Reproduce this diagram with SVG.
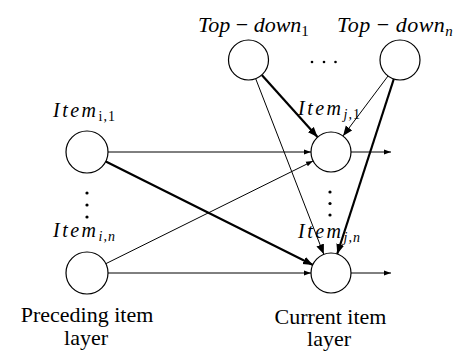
<svg xmlns="http://www.w3.org/2000/svg" width="464" height="352" viewBox="0 0 464 352">
<style>
.node circle{fill:#fff;stroke:#000;stroke-width:1.2}
.thin{stroke:#000;stroke-width:1;fill:none}
.thick{stroke:#000;stroke-width:2.2;fill:none}
text{font-family:"Liberation Serif","Times New Roman",Times,"DejaVu Serif",serif}
.m{font-style:italic;fill:#000}
.up{font-style:normal}
.lbl{font-size:22px;fill:#000;text-anchor:middle}
.dot{fill:#000}
</style>
<defs>
<marker id="a" markerUnits="userSpaceOnUse" markerWidth="8" markerHeight="6" refX="7" refY="3" orient="auto"><path d="M0,0.5 L7,3 L0,5.5 z" fill="#000"/></marker>
<marker id="b" markerUnits="userSpaceOnUse" markerWidth="11" markerHeight="9" refX="10" refY="4.5" orient="auto"><path d="M0,0.5 L10,4.5 L0,8.5 z" fill="#000"/></marker>
</defs>
<g id="connectors">
<line class="thin" x1="108" y1="152" x2="311" y2="152" marker-end="url(#a)"/>
<line class="thick" x1="105.8" y1="161.4" x2="313" y2="265" marker-end="url(#b)"/>
<line class="thin" x1="105.8" y1="263.7" x2="313" y2="161" marker-end="url(#a)"/>
<line class="thin" x1="108" y1="273" x2="311" y2="273" marker-end="url(#a)"/>
<line class="thick" x1="261.8" y1="74.9" x2="317.5" y2="137" marker-end="url(#b)"/>
<line class="thin" x1="255.7" y1="78.7" x2="323.8" y2="254.3" marker-end="url(#b)"/>
<line class="thin" x1="388" y1="76" x2="343" y2="136" marker-end="url(#b)"/>
<line class="thick" x1="393.8" y1="79" x2="337.2" y2="254" marker-end="url(#b)"/>
<line class="thin" x1="351" y1="152" x2="391" y2="152" marker-end="url(#a)"/>
<line class="thin" x1="351" y1="273" x2="391" y2="273" marker-end="url(#a)"/>
</g>
<g id="item_i1" class="node">
<circle cx="87" cy="152" r="21"/>
<text class="m" x="53" y="117" font-size="20" letter-spacing="2.5">Item<tspan class="up" font-size="14" dy="4" letter-spacing="1">i,1</tspan></text>
</g>
<g id="item_in" class="node">
<circle cx="87" cy="273" r="21"/>
<text class="m" x="53" y="237" font-size="20" letter-spacing="2.5">Item<tspan font-size="14" dy="4" letter-spacing="1">i,n</tspan></text>
</g>
<g id="item_j1" class="node">
<circle cx="331" cy="152" r="20"/>
<text class="m" x="298" y="115" font-size="20" letter-spacing="2.5">Item<tspan font-size="14" dy="4" letter-spacing="1">j,<tspan class="up">1</tspan></tspan></text>
</g>
<g id="item_jn" class="node">
<circle cx="331" cy="273" r="20"/>
<text class="m" x="298" y="238" font-size="20" letter-spacing="2.5">Item<tspan font-size="14" dy="4" letter-spacing="1">j,n</tspan></text>
</g>
<g id="topdown_1" class="node">
<circle cx="248.5" cy="60" r="20"/>
<text class="m" x="198" y="32" font-size="22">Top<tspan class="up"> − </tspan>down<tspan class="up" font-size="15" dy="4">1</tspan></text>
</g>
<g id="topdown_n" class="node">
<circle cx="400" cy="60" r="20"/>
<text class="m" x="337" y="32" font-size="22" letter-spacing="0.5">Top<tspan class="up"> − </tspan>down<tspan font-size="15" dy="4">n</tspan></text>
</g>
<g id="layer_labels">
<text class="lbl" x="87" y="322">Preceding item</text>
<text class="lbl" x="86" y="345">layer</text>
<text class="lbl" x="330.5" y="324">Current item</text>
<text class="lbl" x="329" y="346">layer</text>
</g>
<g id="ellipses">
<circle class="dot" cx="312" cy="62" r="1.3"/>
<circle class="dot" cx="324" cy="62" r="1.3"/>
<circle class="dot" cx="335.5" cy="62" r="1.3"/>
<circle class="dot" cx="87" cy="193" r="1.6"/>
<circle class="dot" cx="87" cy="205" r="1.6"/>
<circle class="dot" cx="87" cy="217" r="1.6"/>
<circle class="dot" cx="330" cy="192" r="1.6"/>
<circle class="dot" cx="330" cy="203.5" r="1.6"/>
<circle class="dot" cx="330" cy="215" r="1.6"/>
</g>
</svg>
